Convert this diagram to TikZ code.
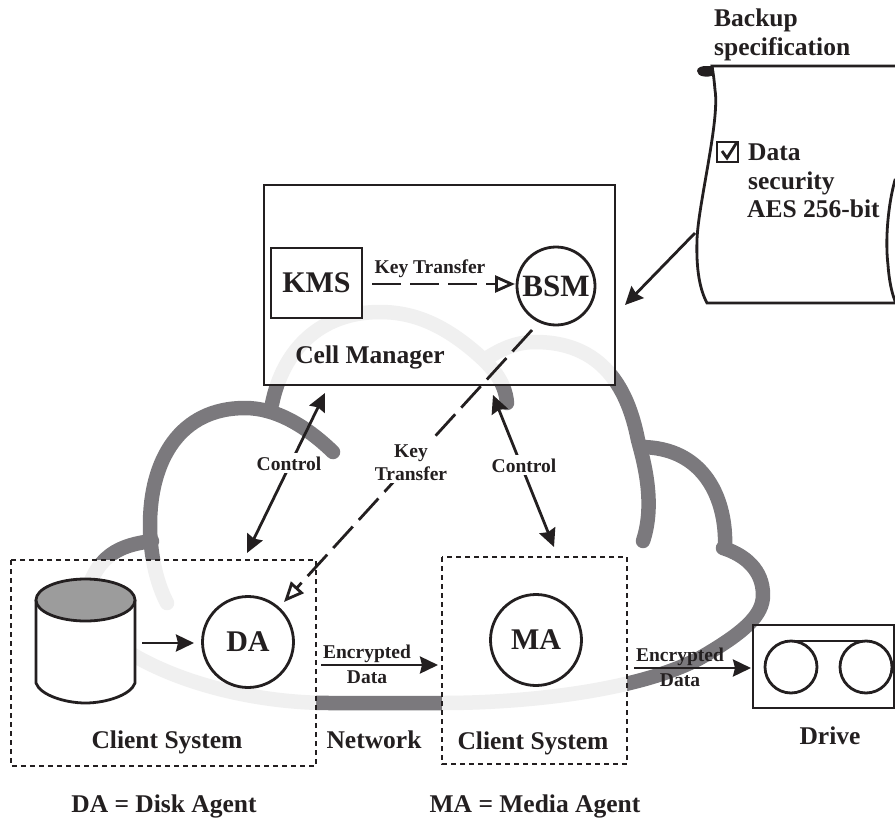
\documentclass[tikz,border=0pt]{standalone}
\usepackage{fontspec}
\setmainfont{Liberation Serif}
\usetikzlibrary{arrows.meta}
\definecolor{ink}{HTML}{231F20}
\definecolor{clouddark}{HTML}{7B797D}
\definecolor{cloudlight}{HTML}{F0F0F0}
\newcommand{\cloudstrokes}[1]{%
  \draw[#1] (125,650) .. controls (180,685) and (260,703) .. (330,703) -- (442,703) .. controls (530,703) and (640,690) .. (700,658) .. controls (745,632) and (763,615) .. (763,595) .. controls (763,570) and (745,555) .. (723,548);
  \draw[#1] (725,548) .. controls (727,500) and (705,447) .. (640,447);
  \draw[#1] (643,541) .. controls (655,505) and (645,465) .. (638,440) .. controls (630,400) and (610,342) .. (535,342) .. controls (515,342) and (500,350) .. (487,358);
  \draw[#1] (507,403) .. controls (505,380) and (490,365) .. (475,352) .. controls (440,322) and (410,312) .. (380,312) .. controls (320,312) and (283,350) .. (272,404);
  \draw[#1] (333,452) .. controls (305,425) and (275,408) .. (245,408) .. controls (180,408) and (150,460) .. (150,525) .. controls (150,550) and (155,580) .. (167,603);
  \draw[#1] (152,541) .. controls (120,545) and (95,555) .. (85,600);
}
\tikzset{
  every node/.style={text=ink,font=\bfseries},
  big/.style={font=\fontsize{25.5}{28}\selectfont\bfseries,anchor=base,inner sep=0pt},
  small/.style={font=\fontsize{19.5}{22}\selectfont\bfseries,anchor=base,inner sep=0pt},
  agent/.style={circle,draw=ink,line width=2.8pt,fill=white,minimum size=91pt,inner sep=0pt,font=\fontsize{30}{32}\selectfont\bfseries},
  solidbox/.style={draw=ink,line width=2.8pt},
  dotbox/.style={draw=ink,line width=2.4pt,dash pattern=on 5pt off 4pt},
  cloudline/.style={line width=14.5pt,line cap=round,line join=round},
  ctl/.style={draw=ink,line width=2.8pt,{Stealth[length=18pt,width=17pt,inset=2pt]}-{Stealth[length=18pt,width=17pt,inset=2pt]}},
  flow/.style={draw=ink,line width=2.8pt,-{Stealth[length=18pt,width=17pt,inset=2pt]}},
  keyline/.style={draw=ink,line width=2.8pt,dash pattern=on 29pt off 9pt,-{Triangle[open,fill=white,length=20pt,width=17pt,line width=2.8pt]}},
  labelgap/.style={fill=white,inner xsep=1pt,inner ysep=3pt}
}
\begin{document}
\begin{tikzpicture}[x=1pt,y=-1pt]
\useasboundingbox (0,0) rectangle (895,819);
\clip (0,0) rectangle (895,819);
% cloud: dark everywhere, faint where a system box covers it
\cloudstrokes{cloudline,clouddark}
\begin{scope}
  \clip (264,185) rectangle (615,385);
  \fill[white] (264,185) rectangle (615,385);
  \cloudstrokes{cloudline,cloudlight}
\end{scope}
\begin{scope}
  \clip (11,560) rectangle (316,766);
  \fill[white] (11,560) rectangle (316,766);
  \cloudstrokes{cloudline,cloudlight}
\end{scope}
\begin{scope}
  \clip (442,557) rectangle (627,764);
  \fill[white] (442,557) rectangle (627,764);
  \cloudstrokes{cloudline,cloudlight}
\end{scope}
% boxes
\draw[solidbox] (264,185) rectangle (615,385);
\draw[dotbox] (11,560) rectangle (316,766);
\draw[dotbox] (442,557) rectangle (627,764);
\draw[solidbox] (753,625) rectangle (894,708);
% scroll
\fill[ink] (697,71) .. controls (697,67) and (702,66) .. (707,66) -- (714,66) -- (714,75) .. controls (708,78) and (697,77) .. (697,71);
\filldraw[fill=white,draw=ink,line width=2.8pt] (712,66) -- (900,66) -- (900,180) -- (895,180) .. controls (888,205) and (885,240) .. (888,265) .. controls (889,280) and (892,295) .. (896,303) -- (707,303) .. controls (700,290) and (696,270) .. (697,240) .. controls (698,205) and (720,120) .. (715,90) .. controls (714,78) and (713,72) .. (712,66) -- cycle;
\draw[draw=ink,line width=2.2pt] (717,142) rectangle (738,162);
\draw[draw=ink,line width=2.8pt] (722,151) -- (727,158) -- (737,142);
% disk
\filldraw[fill=white,draw=ink,line width=2.8pt] (36,600) -- (36,683) .. controls (40,695) and (65,703) .. (85.5,703) .. controls (106,703) and (131,695) .. (135,683) -- (135,600);
\filldraw[fill=gray!78,draw=ink,line width=2.8pt] (85.5,600) ellipse [x radius=49.5,y radius=21];
% nodes
\node[agent,minimum size=78pt,font=\fontsize{31}{33}\selectfont\bfseries] (bsm) at (556,286) {BSM};
\node[agent] (da) at (248,642) {DA};
\node[agent] (ma) at (536,640) {MA};
\node[draw=ink,line width=2.8pt,fill=white,minimum width=91pt,minimum height=70pt,inner sep=0pt,font=\fontsize{30}{32}\selectfont\bfseries] (kms) at (316.5,283) {KMS};
\node[circle,draw=ink,line width=2.8pt,minimum size=52pt,inner sep=0pt,outer sep=0pt] (reelA) at (791,667) {};
\node[circle,draw=ink,line width=2.8pt,minimum size=52pt,inner sep=0pt,outer sep=0pt] (reelB) at (866,667) {};
\draw[draw=ink,line width=2.8pt] (reelA.north) -- (reelB.north);
% labels
\node[big] (lbackup) at (714,27) [anchor=base west] {Backup};
\node[big] (lspec) at (714,55) [anchor=base west] {specification};
\node[big] (ldata) at (748,160) [anchor=base west] {Data};
\node[big] (lsec) at (748,189) [anchor=base west] {security};
\node[big] (laes) at (747,217) [anchor=base west] {AES 256-bit};
\node[big] (lcell) at (370,363) {Cell Manager};
\node[big] (lclient1) at (167,748) {Client System};
\node[big] (lnet) at (374,748) {Network};
\node[big] (lclient2) at (533,749) {Client System};
\node[big] (ldrive) at (830,744) {Drive};
\node[big] (lda) at (164,812) {DA = Disk Agent};
\node[big] (lma) at (535,812) {MA = Media Agent};
% connector end points
\coordinate (specout) at (695,233);
\coordinate (cmin) at (625,305);
\coordinate (ctlAtop) at (325,393);
\coordinate (ctlAbot) at (247,553);
\coordinate (ctlBtop) at (493,395);
\coordinate (ctlBbot) at (554,547);
\coordinate (keyfrom) at (532,330);
\coordinate (keyto) at (284,602);
\coordinate (kmsout) at (372,284);
\coordinate (bsmin) at (515,284);
\coordinate (diskout) at (142,643);
\coordinate (dain) at (194,643);
\coordinate (daout) at (321,665);
\coordinate (main) at (438,665);
\coordinate (maout) at (634,668);
\coordinate (drivein) at (751,668);
% connectors
\draw[flow] (specout) -- (cmin);
\draw[ctl] (ctlAtop) -- (ctlAbot);
\draw[ctl] (ctlBtop) -- (ctlBbot);
\draw[keyline] (keyfrom) -- (keyto);
\draw[keyline] (kmsout) -- (bsmin);
\draw[flow] (diskout) -- (dain);
\draw[flow] (daout) -- (main);
\draw[flow] (maout) -- (drivein);
% connector labels
\node[small] (lkt) at (430,273) {Key Transfer};
\node[small,labelgap] (lctlA) at (289,470) {Control};
\node[small,labelgap] (lctlB) at (524,472) {Control};
\node[small,labelgap,inner xsep=8pt,inner ysep=6pt] (lkey) at (411,457) {Key};
\node[small,labelgap] (ltrans) at (411,480) {Transfer};
\node[small] (lenc1) at (367,658) {Encrypted};
\node[small] (ldat1) at (367,683) {Data};
\node[small] (lenc2) at (680,661) {Encrypted};
\node[small] (ldat2) at (680,686) {Data};
\end{tikzpicture}
\end{document}
